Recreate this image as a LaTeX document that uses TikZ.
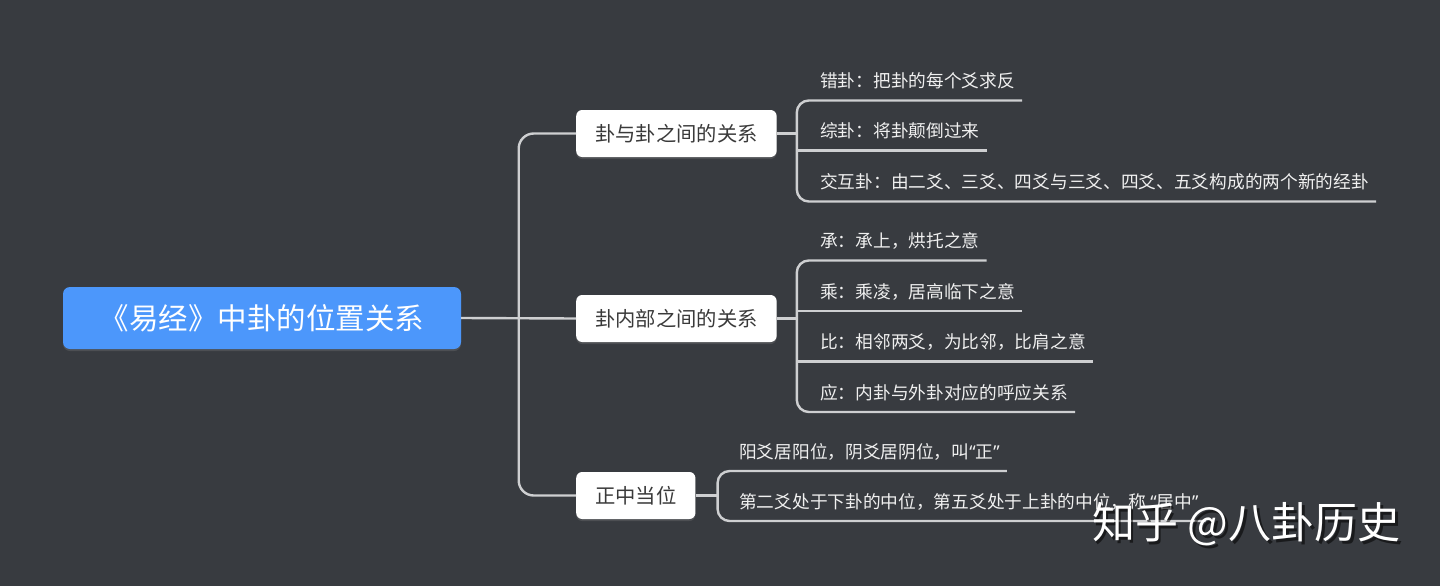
\documentclass[tikz,border=0pt]{standalone}
\usepackage{fontspec}
\usepackage{tikz}
\usetikzlibrary{shadows}
\newfontfamily\cjk{Noto Sans CJK SC}
\newfontfamily\qfont{Noto Sans}
\definecolor{mapbg}{RGB}{56,59,64}
\definecolor{mapblue}{RGB}{76,151,251}
\definecolor{mapline}{RGB}{206,207,209}
\definecolor{maptext}{RGB}{58,58,58}
\definecolor{leaftext}{RGB}{240,240,240}
\newcommand{\qt}[1]{{\qfont“}#1{\qfont”}}
\tikzset{
  root/.style={fill=mapblue, rounded corners=7pt, minimum width=398pt, minimum height=62pt,
               text=white, font=\cjk\fontsize{29.5}{34}\selectfont,
               drop shadow={shadow xshift=0pt, shadow yshift=-2pt, opacity=.3}},
  topic/.style={fill=white, rounded corners=6pt, minimum height=47pt, inner xsep=19pt,
                anchor=west, text=maptext, font=\cjk\fontsize{20.3}{24}\selectfont,
                drop shadow={shadow xshift=0pt, shadow yshift=-2pt, opacity=.3}},
  leaf/.style={anchor=south west, inner xsep=7pt, inner ysep=8.9pt, text height=14pt,
               text depth=3.5pt, text=leaftext, font=\cjk\fontsize{17.7}{21}\selectfont},
  br/.style={mapline, line width=2.4pt},
  wm/.style={anchor=west, inner sep=0pt, font=\cjk\fontsize{43}{50}\selectfont},
}

\begin{document}
\begin{tikzpicture}[x=1pt, y=-1pt]
  \useasboundingbox (0,0) rectangle (1440,586);
  \fill[mapbg] (0,0) rectangle (1440,586);

  \node[root] (root) at (262,318) {《易经》中卦的位置关系};
  \node[topic] (g1) at (576,133.5) {卦与卦之间的关系};
  \node[topic] (g2) at (576,318.5) {卦内部之间的关系};
  \node[topic] (g3) at (576,495.5) {正中当位};

  \node[leaf] (l11) at (813,100.5) {错卦：把卦的每个爻求反};
  \node[leaf] (l12) at (813,150.5) {综卦：将卦颠倒过来};
  \node[leaf] (l13) at (813,201.5) {交互卦：由二爻、三爻、四爻与三爻、四爻、五爻构成的两个新的经卦};

  \node[leaf] (l21) at (813,260.5) {承：承上，烘托之意};
  \node[leaf] (l22) at (813,311) {乘：乘凌，居高临下之意};
  \node[leaf] (l23) at (813,361.5) {比：相邻两爻，为比邻，比肩之意};
  \node[leaf] (l24) at (813,412) {应：内卦与外卦对应的呼应关系};

  \node[leaf] (l31) at (732,471) {阳爻居阳位，阴爻居阴位，叫\qt{正}};
  \node[leaf] (l32) at (732,521) {第二爻处于下卦的中位，第五爻处于上卦的中位，称 \qt{居中}};

  \path (root.east) ++(57.5,0) coordinate (trunk);
  \path (g1.east) ++(20,0) coordinate (j1);
  \path (g2.east) ++(20,0) coordinate (j2);
  \path (g3.east) ++(22,0) coordinate (j3);

  \draw[br] (root.east) -- (g2.west);
  \draw[br, rounded corners=15pt] (g1.west) -| (trunk) |- (g3.west);

  \draw[br] (g1.east) -- (j1);
  \draw[br, rounded corners=12pt] (l11.south east) -| (j1) |- (l13.south east);
  \draw[br] (l12.south east) -- (l12.south east -| j1);

  \draw[br] (g2.east) -- (j2);
  \draw[br, rounded corners=12pt] (l21.south east) -| (j2) |- (l24.south east);
  \draw[br] (l22.south east) -- (l22.south east -| j2);
  \draw[br] (l23.south east) -- (l23.south east -| j2);

  \draw[br] (g3.east) -- (j3);
  \draw[br, rounded corners=12pt] (l31.south east) -| (j3) |- (l32.south east);

  \node[wm, text=black, opacity=.55] (wmshade) at (1094.5,527) {知乎 @八卦历史};
  \node[wm, text=white] (wmark) at (1092,524.5) {知乎 @八卦历史};
\end{tikzpicture}
\end{document}
